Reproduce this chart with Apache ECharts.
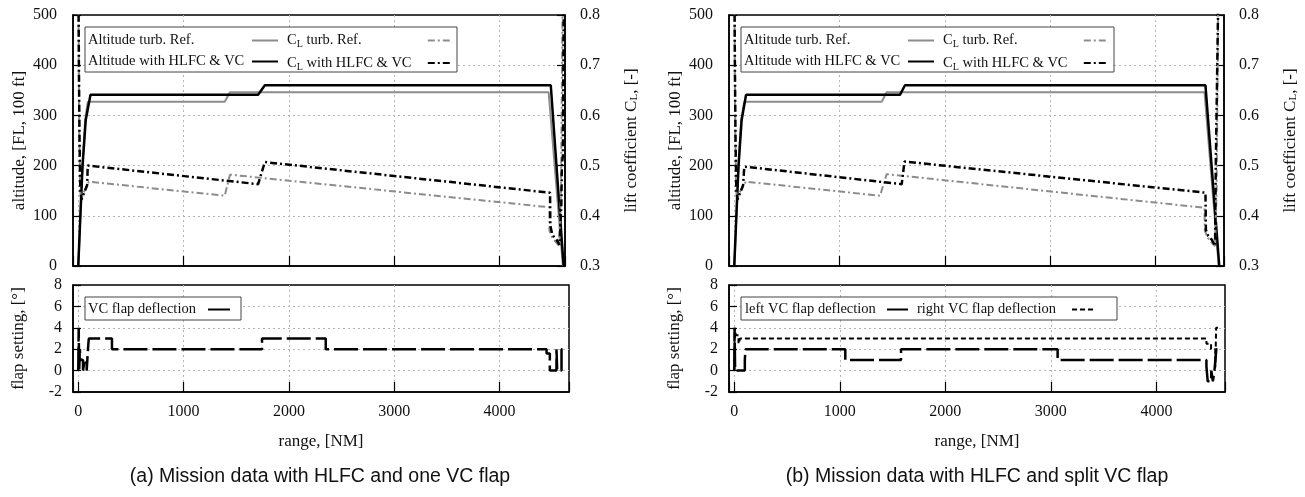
<!DOCTYPE html>
<html>
<head>
<meta charset="utf-8">
<script src="https://cdn.jsdelivr.net/npm/echarts@6/dist/echarts.min.js"></script>
<style>
html, body { margin: 0; padding: 0; background: #fff; }
#main { width: 1305px; height: 497px; }
</style>
</head>
<body>
<div id="main"></div>
<script>
// (a) mission with HLFC and one VC flap  -- [range NM, value]
const altRefA = [[0,0],[20,100],[40,198],[65,290],[90,327],[1390,327],[1440,346],[4465,346],[4600,0]];
const altHlfcA = [[0,0],[20,100],[40,198],[71,291],[116,341],[1707,341],[1771,360],[4485,360],[4607,0]];
const clRefA = [[0,0.9],[5,0.7],[10,0.55],[18,0.45],[28,0.435],[60,0.45],[100,0.468],[1390,0.44],[1440,0.482],[4470,0.417],[4473,0.37],[4500,0.356],[4540,0.346],[4565,0.34],[4582,0.45],[4600,0.9]];
const clHlfcA = [[0,0.92],[6,0.7],[12,0.55],[20,0.45],[30,0.432],[84,0.461],[90,0.5],[1707,0.463],[1720,0.463],[1771,0.507],[4478,0.446],[4481,0.38],[4500,0.362],[4540,0.352],[4567,0.342],[4585,0.42],[4590,0.5],[4600,0.52],[4610,0.9]];
const flapA = [[0,0],[4,0],[4,4],[9,4],[9,0],[15,0],[15,2],[22,2],[22,1],[45,1],[45,0],[60,0],[60,1],[80,1],[80,0],[92,0],[92,2],[100,2],[100,3],[320,3],[320,2],[1745,2],[1745,3],[2350,3],[2350,2],[4447,2],[4447,1.6],[4478,1.6],[4478,0],[4541,0],[4541,2],[4548,2],[4548,0],[4589,0],[4589,2],[4598,2]];

// (b) mission with HLFC and split VC flap
const altRefB = [[0,0],[20,100],[40,198],[65,290],[95,327],[1400,327],[1447,346],[4465,346],[4600,0]];
const altHlfcB = [[0,0],[20,100],[40,198],[70,291],[112,341],[1573,341],[1621,360],[4474,360],[4605,0]];
const clRefB = [[0,0.9],[5,0.7],[10,0.55],[18,0.45],[28,0.435],[60,0.45],[110,0.468],[1384,0.44],[1447,0.483],[4465,0.416],[4468,0.37],[4500,0.355],[4540,0.345],[4565,0.34],[4580,0.45],[4598,0.9]];
const clHlfcB = [[0,0.92],[6,0.7],[12,0.55],[20,0.45],[30,0.432],[84,0.461],[95,0.498],[1590,0.463],[1616,0.508],[4474,0.446],[4478,0.372],[4500,0.36],[4535,0.352],[4565,0.34],[4572,0.5],[4590,0.5],[4600,0.9]];
const leftFlapB = [[0,0],[3,0],[3,4],[8,4],[8,0],[100,0],[100,1],[106,1],[106,2],[1052,2],[1052,1],[1580,1],[1580,2],[3064,2],[3064,1],[4474,1],[4474,0.4],[4486,0.4],[4486,-1],[4520,-1],[4520,0],[4535,0],[4535,-1],[4550,-1],[4550,0],[4568,0],[4568,2],[4578,2]];
const rightFlapB = [[0,0],[5,0],[5,4],[15,4],[15,3.3],[40,3.3],[40,2.5],[55,2.5],[55,3],[4474,3],[4474,2.5],[4518,2.5],[4518,2],[4558,2],[4558,0.3],[4566,0.3],[4566,4],[4583,4]];

const captions = ['(a) Mission data with HLFC and one VC flap', '(b) Mission data with HLFC and split VC flap'];

const SERIF = 'Liberation Serif';
const GRAY = '#8c8c8c';
const dashDot = [7, 3, 2, 3];
const longDash = [24, 5];

let chart = echarts.init(document.getElementById('main'));

const dotted = { show: true, showMinLine: false, showMaxLine: false, lineStyle: { color: '#b4b4b4', width: 1, type: [2, 3] } };
const frame = { show: true, onZero: false, lineStyle: { color: '#000', width: 1.5 } };
const tickIn = len => ({ show: true, inside: true, length: len, lineStyle: { color: '#000', width: 1.2 } });
const lbl = { fontFamily: SERIF, fontSize: 16, color: '#111' };

function xAx(grid, max, showLabel) {
  return {
    type: 'value', gridIndex: grid, min: -50, max: max, splitNumber: 5,
    axisLine: frame, axisTick: tickIn(10), splitLine: dotted,
    axisLabel: Object.assign({ show: showLabel, margin: 12, formatter: v => (v % 1000 === 0 ? String(v) : '') }, lbl),
    name: showLabel ? 'range, [NM]' : '', nameLocation: 'middle', nameGap: 41,
    nameTextStyle: { fontFamily: SERIF, fontSize: 17, color: '#111' }
  };
}
function altAx(grid) {
  return {
    type: 'value', gridIndex: grid, min: 0, max: 500, interval: 100,
    axisLine: frame, axisTick: tickIn(8), splitLine: dotted,
    axisLabel: Object.assign({ margin: 16 }, lbl),
    name: 'altitude, [FL, 100 ft]', nameLocation: 'middle', nameGap: 45, nameRotate: 90,
    nameMoveOverlap: false,
    nameTextStyle: { fontFamily: SERIF, fontSize: 17, color: '#111' }
  };
}
function clAx(grid) {
  return {
    type: 'value', gridIndex: grid, position: 'right', min: 0.3, max: 0.8, interval: 0.1,
    axisLine: frame, axisTick: tickIn(8), splitLine: { show: false },
    axisLabel: Object.assign({ margin: 15, formatter: v => v.toFixed(1) }, lbl),
    name: 'lift coefficient C{s|L}, [-]', nameLocation: 'middle', nameGap: 58, nameRotate: 90,
    nameTextStyle: { fontFamily: SERIF, fontSize: 17, color: '#111',
      rich: { s: { fontFamily: SERIF, fontSize: 11, color: '#111', verticalAlign: 'bottom' } } }
  };
}
function flapAx(grid) {
  return {
    type: 'value', gridIndex: grid, min: -2, max: 8, interval: 2,
    axisLine: frame, axisTick: tickIn(8), splitLine: dotted,
    axisLabel: Object.assign({ margin: 11 }, lbl),
    name: 'flap setting, [°]', nameLocation: 'middle', nameGap: 46, nameRotate: 90,
    nameTextStyle: { fontFamily: SERIF, fontSize: 17, color: '#111' }
  };
}

function line(name, data, xi, yi, color, width, type) {
  return {
    name: name, type: 'line', data: data, xAxisIndex: xi, yAxisIndex: yi,
    symbol: 'none', clip: true, color: color, animation: false,
    lineStyle: { color: color, width: width, type: type }
  };
}

// legend text with fixed width so the samples line up like gnuplot keys
function legend(names, left, top, textW, iconW) {
  return {
    data: names, left: left, top: top, orient: 'vertical', align: 'right',
    itemWidth: iconW, itemHeight: 12, itemGap: 6, padding: 0, selectedMode: false,
    itemStyle: { opacity: 0 },
    formatter: n => n.startsWith('CL')
      ? '{t|C}{s|L}{p|' + n.slice(2) + '}'
      : '{w|' + n + '}',
    textStyle: {
      fontFamily: SERIF, fontSize: 14.5, color: '#111',
      rich: {
        w: { fontFamily: SERIF, fontSize: 14.5, color: '#111', width: textW, align: 'left', lineHeight: 18 },
        t: { fontFamily: SERIF, fontSize: 14.5, color: '#111', align: 'left', lineHeight: 18 },
        s: { fontFamily: SERIF, fontSize: 10, color: '#111', align: 'left', verticalAlign: 'bottom', lineHeight: 18 },
        p: { fontFamily: SERIF, fontSize: 14.5, color: '#111', width: textW - 16, align: 'left', lineHeight: 18 }
      }
    }
  };
}

const box = (x, y, w, h) => ({
  type: 'rect', z: 3, shape: { x: x, y: y, width: w, height: h },
  style: { fill: '#fff', stroke: '#444', lineWidth: 1 }
});
const caption = (text, x) => ({
  type: 'text', z: 5, x: x, y: 477,
  style: { text: text, fontFamily: 'Liberation Sans', fontSize: 19.5, fill: '#111',
    align: 'center', verticalAlign: 'middle', textAlign: 'center', textVerticalAlign: 'middle' }
});

let option = {
  backgroundColor: '#fff',
  animation: false,
  grid: [
    { left: 73, top: 15, width: 492, height: 251, show: true, borderColor: '#000', borderWidth: 1.5 },
    { left: 73, top: 285, width: 496, height: 107, show: true, borderColor: '#000', borderWidth: 1.5 },
    { left: 729, top: 15, width: 495, height: 251, show: true, borderColor: '#000', borderWidth: 1.5 },
    { left: 729, top: 285, width: 496, height: 107, show: true, borderColor: '#000', borderWidth: 1.5 }
  ],
  xAxis: [xAx(0, 4620, false), xAx(1, 4660, true), xAx(2, 4650, false), xAx(3, 4650, true)],
  yAxis: [altAx(0), clAx(0), flapAx(1), altAx(2), clAx(2), flapAx(3)],
  legend: [
    legend(['Altitude turb. Ref.', 'Altitude with HLFC & VC'], 88, 33, 159, 26),
    legend(['CL turb. Ref.', 'CL with HLFC & VC'], 287, 33, 136, 24),
    legend(['VC flap deflection'], 88, 302, 115, 22),
    legend(['Altitude turb. Ref.', 'Altitude with HLFC & VC'], 744, 33, 159, 26),
    legend(['CL turb. Ref.', 'CL with HLFC & VC'], 943, 33, 136, 24),
    legend(['left VC flap deflection'], 745, 302, 137, 21),
    legend(['right VC flap deflection'], 917, 302, 150, 23)
  ],
  graphic: [
    box(85, 27, 372, 45), box(85, 297, 156, 23),
    box(741, 27, 373, 45), box(741, 297, 376, 23),
    caption(captions[0], 320), caption(captions[1], 977)
  ],
  series: [
    line('Altitude turb. Ref.', altRefA, 0, 0, GRAY, 2, 'solid'),
    line('Altitude with HLFC & VC', altHlfcA, 0, 0, '#000', 2.5, 'solid'),
    line('CL turb. Ref.', clRefA, 0, 1, GRAY, 2, dashDot),
    line('CL with HLFC & VC', clHlfcA, 0, 1, '#000', 2.5, dashDot),
    line('VC flap deflection', flapA, 1, 2, '#000', 2.5, longDash),
    line('Altitude turb. Ref.', altRefB, 2, 3, GRAY, 2, 'solid'),
    line('Altitude with HLFC & VC', altHlfcB, 2, 3, '#000', 2.5, 'solid'),
    line('CL turb. Ref.', clRefB, 2, 4, GRAY, 2, dashDot),
    line('CL with HLFC & VC', clHlfcB, 2, 4, '#000', 2.5, dashDot),
    line('left VC flap deflection', leftFlapB, 3, 5, '#000', 2.5, longDash),
    line('right VC flap deflection', rightFlapB, 3, 5, '#000', 2, [5, 3])
  ]
};
option && chart.setOption(option);
</script>
</body>
</html>
